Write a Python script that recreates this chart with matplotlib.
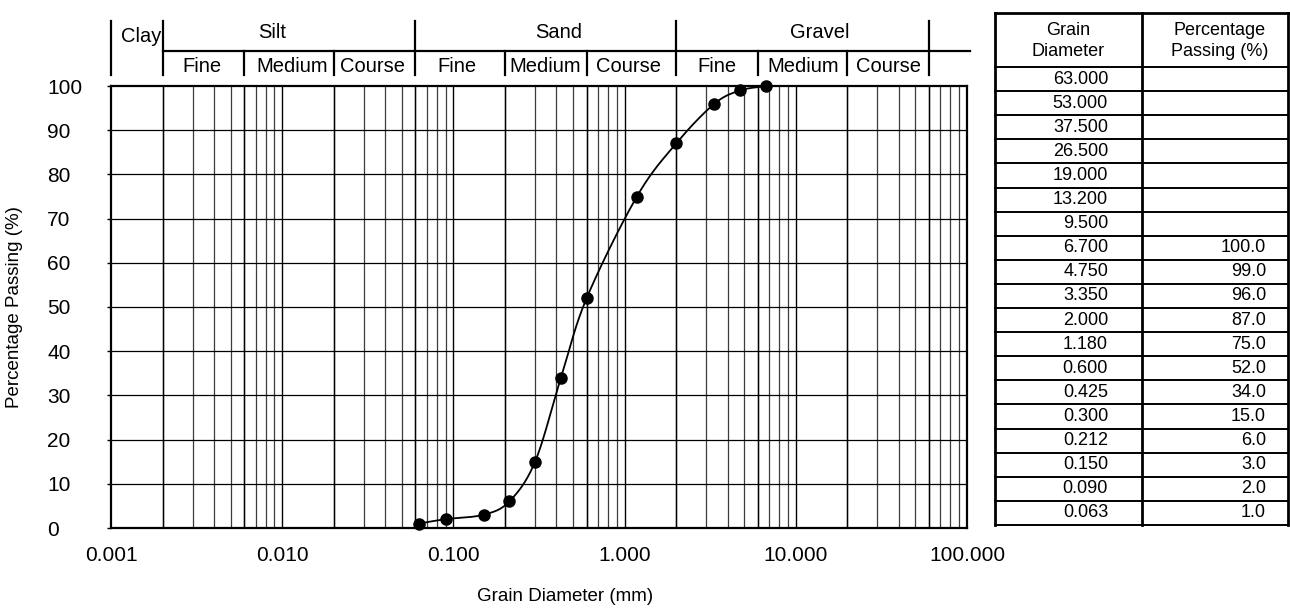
import numpy as np
import matplotlib
matplotlib.use("Agg")
import matplotlib.pyplot as plt
from matplotlib.ticker import FixedLocator, FuncFormatter

plt.rcParams['font.family'] = ['Liberation Sans', 'DejaVu Sans']

# sieve results
sieve_mm = [63.000, 53.000, 37.500, 26.500, 19.000, 13.200, 9.500, 6.700, 4.750,
            3.350, 2.000, 1.180, 0.600, 0.425, 0.300, 0.212, 0.150, 0.090, 0.063]
passing = [None, None, None, None, None, None, None, 100.0, 99.0,
           96.0, 87.0, 75.0, 52.0, 34.0, 15.0, 6.0, 3.0, 2.0, 1.0]

# soil classification bands (boundaries in mm)
main_bounds = [0.001, 0.002, 0.06, 2, 60]
sub_bounds = [0.006, 0.02, 0.2, 0.6, 6, 20]
main_names = ["Clay", "Silt", "Sand", "Gravel"]
main_label_x = [0.0015, 0.0087, 0.41, 13.8]
sub_names = ["Fine", "Medium", "Course"] * 3
sub_label_x = [0.0034, 0.0114, 0.0335, 0.1045, 0.343, 1.05, 3.45, 11.07, 34.7]

W, H = 1290, 608
fig = plt.figure(figsize=(W / 100, H / 100), dpi=100)

L, R, T, B = 111, 967, 86, 528
ax = fig.add_axes([L / W, 1 - B / H, (R - L) / W, (B - T) / H])
ax.set_xscale('log')
ax.set_xlim(0.001, 100)
ax.set_ylim(0, 100)

# grid: every 1..9 per decade, class boundaries drawn darker
minor = [m * 10.0 ** k for k in range(-3, 2) for m in range(2, 10)]
for x in minor:
    ax.axvline(x, color='#3c3c3c', lw=0.9, zorder=1)
for x in [0.01, 0.1, 1, 10] + main_bounds[1:-1] + sub_bounds + [60]:
    ax.axvline(x, color='black', lw=1.0, zorder=1)
for y in range(10, 100, 10):
    ax.axhline(y, color='black', lw=0.9, zorder=1)

ax.xaxis.set_major_locator(FixedLocator([0.001, 0.01, 0.1, 1, 10, 100]))
ax.xaxis.set_minor_locator(FixedLocator([]))
ax.xaxis.set_major_formatter(FuncFormatter(lambda v, p: f"{v:.3f}"))
ax.set_yticks(range(0, 101, 10))
ax.tick_params(axis='x', length=0, pad=13, labelsize=15)
ax.tick_params(axis='y', length=3, width=1, pad=43, labelsize=15, direction='out')
for lbl in ax.get_yticklabels():
    lbl.set_horizontalalignment('left')
for s in ax.spines.values():
    s.set_linewidth(1.6)

ax.set_xlabel("Grain Diameter (mm)", fontsize=13.5)
ax.set_ylabel("Percentage Passing (%)", fontsize=13.5)
ax.xaxis.set_label_coords(0.530, -0.136)
ax.yaxis.set_label_coords(-0.103, 0.5)

# measured points
pts_x = np.array([d for d, p in zip(sieve_mm, passing) if p is not None])[::-1]
pts_y = np.array([p for p in passing if p is not None])[::-1]

# smoothed line (Catmull-Rom through the points, in screen-like space)
u = np.log10(pts_x) * 171.2
v = pts_y * 4.42
P = np.column_stack([u, v])
Pe = np.vstack([2 * P[0] - P[1], P, 2 * P[-1] - P[-2]])
curve = []
t = np.linspace(0, 1, 40)[:, None]
for i in range(1, len(Pe) - 2):
    p0, p1, p2, p3 = Pe[i - 1], Pe[i], Pe[i + 1], Pe[i + 2]
    seg = 0.5 * ((2 * p1) + (-p0 + p2) * t + (2 * p0 - 5 * p1 + 4 * p2 - p3) * t ** 2
                 + (-p0 + 3 * p1 - 3 * p2 + p3) * t ** 3)
    curve.append(seg)
curve = np.vstack(curve)
ax.plot(10 ** (curve[:, 0] / 171.2), curve[:, 1] / 4.42, color='black', lw=1.3, zorder=3)
ax.plot(pts_x, pts_y, 'o', color='black', ms=8, zorder=4, clip_on=False)

# classification header above the plot
def hline(x0, x1, y):
    ax.plot([x0, x1], [y, y], color='black', lw=1.6, clip_on=False)

def vline(x, y0, y1):
    ax.plot([x, x], [y0, y1], color='black', lw=1.6, clip_on=False)

for x in main_bounds:
    vline(x, 102.5, 114.7)
hline(0.002, 104, 108.0)
for x in sub_bounds:
    vline(x, 102.6, 108.0)
for name, x in zip(main_names, main_label_x):
    ax.text(x, 112.0 if name != "Clay" else 111.3, name, ha='center', va='center',
            fontsize=14.5, clip_on=False)
for name, x in zip(sub_names, sub_label_x):
    ax.text(x, 104.4, name, ha='center', va='center', fontsize=14.5, clip_on=False)

# data table on the right, laid out in pixel coordinates
tb = fig.add_axes([0, 0, 1, 1], facecolor='none')
tb.set_xlim(0, W)
tb.set_ylim(H, 0)
tb.axis('off')
tx0, tx1, tx2 = 995, 1142, 1288
ty0, ty1, ty2 = 13, 67, 525
row_h = (ty2 - ty1) / len(sieve_mm)
for i in range(len(sieve_mm) + 1):
    y = ty1 + i * row_h
    tb.plot([tx0, tx2], [y, y], color='black', lw=1.4)
tb.plot([tx0, tx2], [ty0, ty0], color='black', lw=2)
for x in (tx0, tx1, tx2):
    tb.plot([x, x], [ty0, ty2], color='black', lw=2)
tb.text((tx0 + tx1) / 2, (ty0 + ty1) / 2 + 1, "Grain\nDiameter", ha='center', va='center',
        fontsize=13, linespacing=1.35)
tb.text((tx1 + tx2) / 2 + 5, (ty0 + ty1) / 2 + 1, "Percentage\nPassing (%)", ha='center',
        va='center', fontsize=13, linespacing=1.35)
for i, (d, p) in enumerate(zip(sieve_mm, passing)):
    yc = ty1 + (i + 0.5) * row_h
    tb.text(1108, yc, f"{d:.3f}", ha='right', va='center', fontsize=13)
    if p is not None:
        tb.text(1266, yc, f"{p:.1f}", ha='right', va='center', fontsize=13)

fig.savefig("out.png", dpi=100)
